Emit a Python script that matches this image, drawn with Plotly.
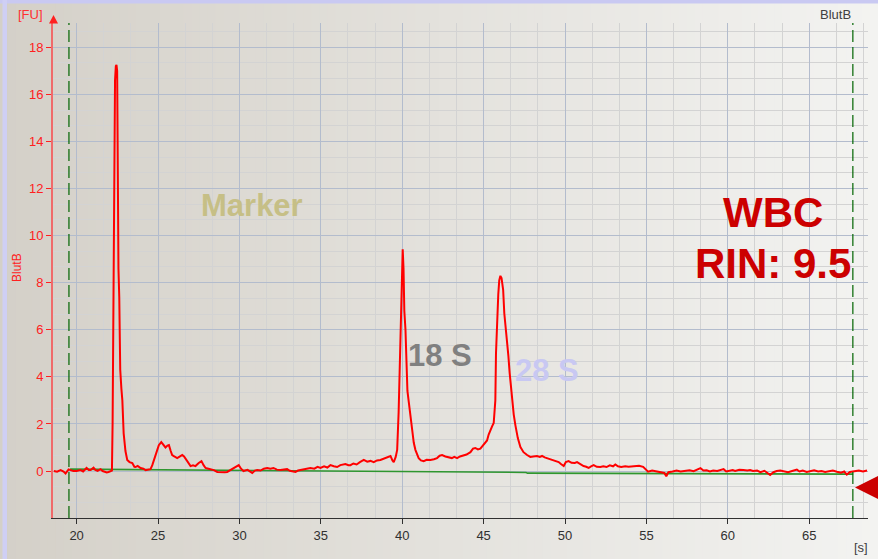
import plotly.graph_objects as go

W, H = 878, 559

# ---------------- data ----------------
time_s = [18.60, 18.80, 19.02, 19.20, 19.32, 19.45, 19.51, 19.63, 19.80, 20.00, 20.15, 20.25, 20.40, 20.61,
          20.75, 20.86, 21.04, 21.15, 21.29, 21.47, 21.60, 21.72, 21.85, 21.96, 22.09, 22.17, 22.21, 22.26,
          22.31, 22.36, 22.41, 22.45, 22.49, 22.52, 22.57, 22.62, 22.68, 22.75, 22.81, 22.89, 23.00, 23.11,
          23.25, 23.42, 23.55, 23.62, 23.75, 23.93, 24.10, 24.24, 24.40, 24.54, 24.65, 24.75, 24.90, 25.05,
          25.20, 25.32, 25.46, 25.58, 25.67, 25.78, 25.87, 26.00, 26.18, 26.35, 26.49, 26.60, 26.75, 26.88,
          27.00, 27.15, 27.30, 27.50, 27.67, 27.80, 27.92, 28.10, 28.25, 28.43, 28.64, 28.90, 29.10, 29.25,
          29.40, 29.56, 29.75, 29.96, 30.10, 30.25, 30.50, 30.65, 30.79, 30.95, 31.09, 31.30, 31.50, 31.71,
          31.90, 32.09, 32.30, 32.52, 32.75, 32.93, 33.10, 33.30, 33.44, 33.60, 33.75, 34.00, 34.20, 34.36,
          34.60, 34.80, 34.98, 35.20, 35.40, 35.59, 35.80, 36.00, 36.20, 36.51, 36.70, 36.82, 37.00, 37.20,
          37.40, 37.64, 37.85, 38.05, 38.25, 38.45, 38.66, 38.85, 39.07, 39.28, 39.40, 39.48, 39.60, 39.69,
          39.78, 39.86, 39.93, 39.98, 40.03, 40.08, 40.13, 40.20, 40.26, 40.32, 40.40, 40.50, 40.61, 40.71,
          40.81, 40.91, 41.01, 41.15, 41.32, 41.50, 41.73, 41.95, 42.14, 42.30, 42.45, 42.65, 42.85, 43.05,
          43.20, 43.37, 43.55, 43.77, 43.95, 44.19, 44.35, 44.49, 44.65, 44.80, 45.00, 45.10, 45.21, 45.31,
          45.41, 45.52, 45.62, 45.72, 45.76, 45.83, 45.90, 45.96, 46.03, 46.10, 46.20, 46.27, 46.35, 46.44,
          46.52, 46.60, 46.74, 46.85, 46.95, 47.10, 47.26, 47.45, 47.67, 47.87, 48.05, 48.28, 48.45, 48.59,
          48.75, 48.89, 49.10, 49.30, 49.45, 49.61, 49.75, 49.92, 50.05, 50.22, 50.40, 50.60, 50.74, 50.90,
          51.14, 51.30, 51.45, 51.60, 51.76, 51.95, 52.17, 52.35, 52.55, 52.75, 52.95, 53.09, 53.25, 53.45,
          53.70, 53.90, 54.10, 54.30, 54.55, 54.80, 54.95, 55.10, 55.35, 55.54, 55.75, 55.95, 56.10, 56.22,
          56.35, 56.60, 56.85, 57.10, 57.40, 57.65, 57.90, 58.10, 58.32, 58.50, 58.70, 58.90, 59.10, 59.35,
          59.55, 59.74, 59.90, 60.10, 60.30, 60.45, 60.70, 60.95, 61.20, 61.37, 61.55, 61.80, 62.00, 62.25,
          62.45, 62.60, 62.80, 63.00, 63.22, 63.45, 63.70, 63.95, 64.24, 64.40, 64.60, 64.85, 65.06, 65.30,
          65.55, 65.75, 65.98, 66.20, 66.45, 66.70, 66.95, 67.15, 67.31, 67.50, 67.82, 68.05, 68.30, 68.55]

signal_fu = [0.00, -0.03, 0.04, -0.02, -0.10, 0.05, 0.07, 0.04, 0.00, 0.00, 0.03, 0.04, -0.02, 0.13,
             0.04, 0.04, 0.14, 0.05, 0.01, 0.08, 0.00, -0.04, -0.06, -0.04, 0.00, 0.02, 2.0, 8.0,
             14.5, 16.6, 17.2, 17.25, 17.0, 12.6, 8.6, 7.4, 4.3, 3.5, 3.0, 1.6, 0.85, 0.47,
             0.38, 0.34, 0.18, 0.17, 0.22, 0.13, 0.10, 0.04, 0.06, 0.08, 0.25, 0.47, 0.75, 1.10,
             1.23, 1.12, 1.00, 1.08, 1.10, 0.85, 0.68, 0.62, 0.55, 0.62, 0.68, 0.62, 0.47, 0.30,
             0.21, 0.24, 0.21, 0.34, 0.42, 0.25, 0.13, 0.10, 0.08, 0.04, -0.04, -0.06, -0.05, -0.04,
             0.02, 0.08, 0.16, 0.25, 0.10, 0.00, 0.05, -0.02, -0.08, 0.02, 0.04, 0.02, 0.10, 0.13,
             0.10, 0.13, 0.06, 0.04, 0.08, 0.08, 0.01, -0.02, -0.04, 0.02, 0.04, 0.06, 0.10, 0.13,
             0.10, 0.18, 0.13, 0.20, 0.15, 0.25, 0.20, 0.17, 0.25, 0.30, 0.25, 0.25, 0.32, 0.28,
             0.38, 0.47, 0.40, 0.43, 0.38, 0.45, 0.47, 0.52, 0.60, 0.64, 0.45, 0.38, 0.60, 0.90,
             2.5, 5.0, 7.5, 9.2, 9.42, 8.6, 6.8, 6.0, 4.5, 3.4, 2.95, 2.3, 1.74, 1.2,
             0.90, 0.70, 0.55, 0.45, 0.42, 0.48, 0.47, 0.50, 0.55, 0.65, 0.68, 0.62, 0.60, 0.55,
             0.60, 0.55, 0.62, 0.68, 0.70, 0.80, 0.95, 0.98, 0.92, 0.95, 1.10, 1.20, 1.30, 1.55,
             1.74, 1.90, 2.04, 3.0, 5.0, 6.5, 7.5, 8.1, 8.29, 8.2, 7.7, 6.7, 6.2, 5.56,
             4.9, 4.16, 3.0, 2.4, 1.95, 1.4, 1.02, 0.80, 0.68, 0.60, 0.62, 0.64, 0.60, 0.64,
             0.58, 0.55, 0.52, 0.47, 0.44, 0.38, 0.30, 0.21, 0.38, 0.42, 0.35, 0.34, 0.38, 0.30,
             0.21, 0.18, 0.13, 0.20, 0.25, 0.18, 0.17, 0.20, 0.17, 0.24, 0.20, 0.28, 0.20, 0.17,
             0.20, 0.18, 0.20, 0.19, 0.22, 0.18, 0.05, -0.03, 0.02, 0.00, -0.05, -0.04, -0.08, -0.22,
             -0.05, -0.02, 0.02, -0.02, 0.00, 0.03, -0.01, 0.04, 0.12, 0.02, 0.03, -0.02, 0.02, 0.00,
             0.04, 0.08, -0.02, 0.02, 0.04, 0.00, 0.05, 0.04, 0.02, 0.04, 0.00, 0.02, -0.05, 0.01,
             -0.10, -0.17, -0.05, 0.00, 0.02, -0.02, -0.05, 0.00, 0.06, -0.02, 0.02, -0.04, 0.00, 0.03,
             -0.02, 0.00, -0.04, -0.02, 0.02, -0.03, -0.07, -0.02, -0.15, -0.04, 0.00, 0.02, -0.02, 0.02]

baseline_t = [19.60, 39.90, 40.00, 47.60, 47.70, 67.70]
baseline_fu = [0.08, 0.00, -0.03, -0.06, -0.09, -0.13]

marker_lines_s = [19.53, 67.68]

x_range = [18.55, 68.61]
y_range = [-1.995, 19.03]

# ---------------- layout helpers ----------------
def px(x):
    return x / W

def py(y):
    return 1 - y / H

x_dom = [px(53), px(868)]
y_dom = [py(518), py(23)]

shapes = []
# horizontal background gradient across whole canvas
left_c = (212, 208, 200)
right_c = (243, 243, 241)
n = 110
for i in range(n):
    f = (i + 0.5) / n
    c = tuple(round(left_c[k] + (right_c[k] - left_c[k]) * f) for k in range(3))
    shapes.append(dict(type="rect", xref="paper", yref="paper", x0=i / n, x1=(i + 1) / n + 0.002,
                       y0=0, y1=1, line=dict(width=0), fillcolor="rgb(%d,%d,%d)" % c, layer="below"))
# window border (lavender)
shapes.append(dict(type="rect", xref="paper", yref="paper", x0=0, x1=1, y0=py(3.5), y1=1,
                   line=dict(width=0), fillcolor="#c9c9f2", layer="below"))
shapes.append(dict(type="rect", xref="paper", yref="paper", x0=px(2.5), x1=px(7), y0=0, y1=1,
                   line=dict(width=0), fillcolor="#cfcff4", layer="below"))
# dashed green marker lines
for t in marker_lines_s:
    shapes.append(dict(type="line", xref="x", yref="paper", x0=t, x1=t, y0=y_dom[0], y1=y_dom[1],
                       line=dict(color="#006400", width=1.2, dash="12px,5px"), layer="above"))
# y axis arrow head
shapes.append(dict(type="path", xref="paper", yref="paper",
                   path="M %f %f L %f %f L %f %f Z" % (px(53.5), py(15), px(49), py(23.5), px(58), py(23.5)),
                   fillcolor="#ff2020", line=dict(width=0)))
# red triangle on right edge
shapes.append(dict(type="path", xref="paper", yref="paper",
                   path="M %f %f L %f %f L %f %f Z" % (px(855), py(487.5), px(878), py(476), px(878), py(499)),
                   fillcolor="#cc0000", line=dict(width=0)))

FONT = "Liberation Sans, Arial, sans-serif"

def ann(text, x, y, size, color, bold=False, angle=0):
    return dict(text=text, x=px(x), y=py(y), xref="paper", yref="paper", showarrow=False,
                xanchor="center", yanchor="middle", textangle=angle,
                font=dict(family=FONT, size=size, color=color, weight="bold" if bold else "normal"))

annotations = [
    ann("[FU]", 30, 15, 13, "#ff3030"),
    ann("BlutB", 17, 268, 12, "#ff2020", angle=-90),
    ann("BlutB", 835, 15, 13, "#404040"),
    ann("[s]", 861, 547, 13, "#404040"),
    ann("Marker", 252, 205, 31, "#c6bf86", bold=True),
    ann("18 S", 440, 355, 31, "#808080", bold=True),
    ann("28 S", 547, 370, 31, "#c8c8f2", bold=True),
    ann("WBC", 773, 212, 42, "#cc0000", bold=True),
    ann("RIN: 9.5", 773, 263, 42, "#cc0000", bold=True),
]

fig = go.Figure()
fig.add_trace(go.Scatter(x=baseline_t, y=baseline_fu, mode="lines",
                         line=dict(color="#2f962f", width=1.6), hoverinfo="skip"))
fig.add_trace(go.Scatter(x=time_s, y=signal_fu, mode="lines",
                         line=dict(color="#ff0000", width=2), hoverinfo="skip"))

fig.update_layout(
    width=W, height=H,
    margin=dict(l=0, r=0, t=0, b=0),
    paper_bgcolor="#e2e0dc",
    plot_bgcolor="rgba(0,0,0,0)",
    showlegend=False,
    shapes=shapes,
    annotations=annotations,
    xaxis=dict(domain=x_dom, range=x_range, tick0=0, dtick=5, showline=True, linecolor="#303030",
               linewidth=1, ticks="outside", ticklen=5, tickcolor="#303030",
               tickfont=dict(family=FONT, size=13, color="#303030"),
               showgrid=True, gridcolor="#b3bccd", gridwidth=1, zeroline=False, automargin=False,
               minor=dict(dtick=5 / 3, tick0=0, showgrid=True, gridcolor="#d3d3d3", gridwidth=1, ticks="")),
    yaxis=dict(domain=y_dom, range=y_range, tick0=0, dtick=2, showline=True, linecolor="#f06a6a",
               linewidth=2, ticks="outside", ticklen=5, tickcolor="#ff2020",
               tickfont=dict(family=FONT, size=13, color="#ff2020"),
               showgrid=True, gridcolor="#b3bccd", gridwidth=1, zeroline=False, automargin=False,
               minor=dict(dtick=2 / 3, tick0=0, showgrid=True, gridcolor="#d3d3d3", gridwidth=1, ticks="")),
)

fig.write_html("out.html")
